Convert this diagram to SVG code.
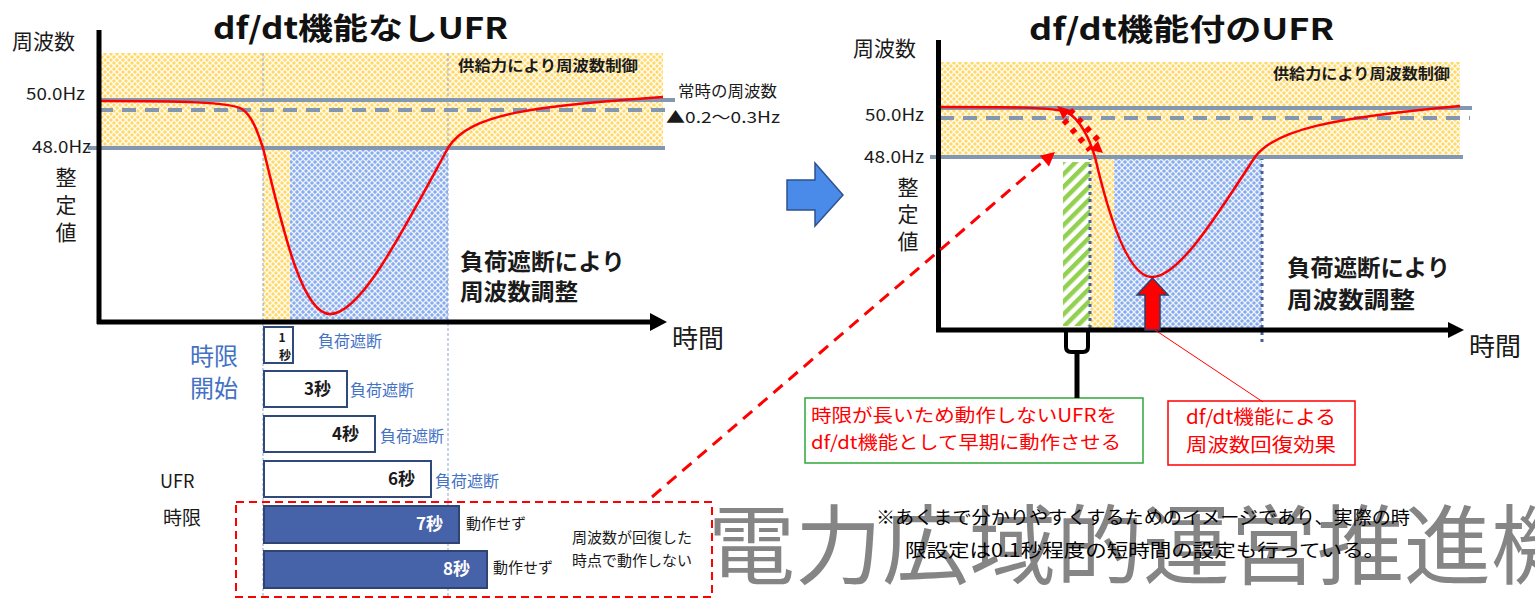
<svg xmlns="http://www.w3.org/2000/svg" width="1535" height="598" viewBox="0 0 1535 598">
<style>
text{font-family:"Noto Sans CJK JP","Noto Sans",sans-serif;fill:#1a1a1a}
.b{font-weight:bold}
.title{font-size:30px;font-weight:bold;fill:#111}
.ax{font-size:21px}
.hz{font-size:17px}
.blue{fill:#4472C4}
.red{fill:#FF0000}
.gl{stroke:#8497B0;stroke-width:4;fill:none}
.gd{stroke:#8497B0;stroke-width:4;fill:none;stroke-dasharray:14 9}
.axis{stroke:#000;stroke-width:5;fill:none}
.curve{stroke:#FF0000;stroke-width:2.5;fill:none}
.vdot{stroke:#8FA5CC;stroke-width:1;stroke-dasharray:3 2;fill:none}
.vdot2{stroke:#4A5E9A;stroke-width:3;stroke-dasharray:3 4;fill:none}
.box{fill:#fff;stroke:#2F4A7A;stroke-width:2}
.boxf{fill:#4662A8;stroke:#2F4470;stroke-width:2}
</style>
<defs>
<pattern id="py" width="6" height="6" patternUnits="userSpaceOnUse"><rect width="6" height="6" fill="#FFD866"/><path d="M0,0 L6,6 M6,0 L0,6" stroke="#FFFBEE" stroke-width="1.4"/></pattern>
<pattern id="pb" width="6" height="6" patternUnits="userSpaceOnUse"><rect width="6" height="6" fill="#88ACED"/><path d="M0,0 L6,6 M6,0 L0,6" stroke="#EDF3FD" stroke-width="1.25"/></pattern>
<pattern id="pg" width="9" height="9" patternUnits="userSpaceOnUse" patternTransform="rotate(45)"><rect width="9" height="9" fill="#fff"/><rect width="4.5" height="9" fill="#92D050"/></pattern>
</defs>
<rect width="1535" height="598" fill="#fff"/>

<!-- watermark -->
<g id="watermark"><text x="708" y="578" style="font-size:87px;fill:#858585">電力広域的運営推進機</text></g>

<!-- LEFT CHART -->
<g id="left-chart">
<text class="title" x="213" y="39" textLength="295" lengthAdjust="spacingAndGlyphs">df/dt機能なしUFR</text>
<rect x="100" y="53" width="563" height="95" fill="url(#py)"/>
<rect x="263" y="148" width="27" height="172" fill="url(#py)"/>
<rect x="290" y="148" width="158" height="172" fill="url(#pb)"/>
<line class="vdot" x1="263" y1="53" x2="263" y2="598"/>
<line class="vdot" x1="448" y1="53" x2="448" y2="598"/>
<line class="gl" x1="99" y1="100" x2="675" y2="100"/>
<line class="gd" x1="99" y1="110" x2="665" y2="110"/>
<line class="gl" x1="88" y1="148" x2="665" y2="148"/>
<path class="curve" d="M99,101 C180,101 230,102 242,109 C252,116 257,130 263,148 C280,215 300,314 330,314 C360,314 398,240 448,148 C470,112 540,106 663,97"/>
<line class="axis" x1="99" y1="30" x2="99" y2="324"/>
<line class="axis" x1="97" y1="322" x2="652" y2="322"/>
<polygon points="667,322 650,313 650,331" fill="#000"/>
<text class="ax" x="12" y="49">周波数</text>
<text class="hz" x="85" y="100" text-anchor="end" textLength="59" lengthAdjust="spacingAndGlyphs">50.0Hz</text>
<text class="hz" x="91" y="153" text-anchor="end" textLength="59" lengthAdjust="spacingAndGlyphs">48.0Hz</text>
<text class="ax" x="66" y="185" text-anchor="middle">整</text>
<text class="ax" x="66" y="213" text-anchor="middle">定</text>
<text class="ax" x="66" y="240" text-anchor="middle">値</text>
<text style="font-size:26px" x="672" y="348">時間</text>
<text class="b" style="font-size:14.5px" x="458" y="71" textLength="180" lengthAdjust="spacingAndGlyphs">供給力により周波数制御</text>
<text style="font-size:15.5px" x="678" y="97" textLength="99" lengthAdjust="spacingAndGlyphs">常時の周波数</text>
<text style="font-size:15.5px" x="666" y="123" textLength="114" lengthAdjust="spacingAndGlyphs">▲0.2～0.3Hz</text>
<text class="b" style="font-size:22.5px" x="460" y="270" textLength="165" lengthAdjust="spacingAndGlyphs">負荷遮断により</text>
<text class="b" style="font-size:22.5px" x="460" y="300" textLength="118" lengthAdjust="spacingAndGlyphs">周波数調整</text>
</g>

<!-- LEFT TIMER BARS -->
<g id="timers">
<text class="blue" style="font-size:24px" x="190" y="365">時限</text>
<text class="blue" style="font-size:24px" x="190" y="397">開始</text>
<text style="font-size:18px" x="160" y="488">UFR</text>
<text style="font-size:19px" x="163" y="525">時限</text>
<g id="t1"><rect class="box" x="264" y="327" width="29" height="36"/>
<text class="b" style="font-size:12px" x="282" y="342" text-anchor="middle">1</text>
<text class="b" style="font-size:12px" x="285" y="360" text-anchor="middle">秒</text>
<text class="blue" style="font-size:16px" x="318" y="347">負荷遮断</text></g>
<g id="t3"><rect class="box" x="264" y="371" width="83" height="36"/>
<text class="b" style="font-size:17px" x="331" y="395" text-anchor="end">3秒</text>
<text class="blue" style="font-size:16px" x="350" y="396">負荷遮断</text></g>
<g id="t4"><rect class="box" x="264" y="416" width="111" height="36"/>
<text class="b" style="font-size:17px" x="359" y="440" text-anchor="end">4秒</text>
<text class="blue" style="font-size:16px" x="380" y="442">負荷遮断</text></g>
<g id="t6"><rect class="box" x="264" y="461" width="167" height="36"/>
<text class="b" style="font-size:17px" x="415" y="485" text-anchor="end">6秒</text>
<text class="blue" style="font-size:16px" x="435" y="487">負荷遮断</text></g>
<g id="t7"><rect class="boxf" x="264" y="506" width="195" height="37"/>
<text class="b" style="font-size:17px;fill:#fff" x="443" y="530" text-anchor="end">7秒</text>
<text style="font-size:15px" x="466" y="529">動作せず</text></g>
<g id="t8"><rect class="boxf" x="264" y="551" width="223" height="37"/>
<text class="b" style="font-size:17px;fill:#fff" x="470" y="575" text-anchor="end">8秒</text>
<text style="font-size:15px" x="493" y="573">動作せず</text></g>
<g id="no-op-note"><rect x="236" y="502" width="476" height="95" fill="none" stroke="#FF0000" stroke-width="2" stroke-dasharray="8 5"/>
<text style="font-size:15px" x="572" y="543">周波数が回復した</text>
<text style="font-size:15px" x="572" y="566">時点で動作しない</text></g>
</g>

<!-- BLUE ARROW -->
<g id="transition-arrow"><polygon points="787,180 815,180 815,163 843,195 815,226 815,210 787,210" fill="#4A8BEA" stroke="#2F528F" stroke-width="1.5"/></g>

<!-- RIGHT CHART -->
<g id="right-chart">
<text class="title" x="1029" y="40" textLength="305" lengthAdjust="spacingAndGlyphs">df/dt機能付のUFR</text>
<rect x="940" y="62" width="520" height="95" fill="url(#py)"/>
<rect x="1063" y="162" width="27" height="164" fill="url(#pg)"/>
<rect x="1090" y="157" width="24" height="171" fill="url(#py)"/>
<rect x="1114" y="157" width="148" height="171" fill="url(#pb)"/>
<line class="vdot2" x1="1090" y1="157" x2="1090" y2="330"/>
<line class="vdot2" x1="1262" y1="157" x2="1262" y2="346"/>
<line class="gl" x1="938" y1="108" x2="1472" y2="108"/>
<line class="gd" x1="940" y1="118" x2="1470" y2="118"/>
<line class="gl" x1="930" y1="157" x2="1463" y2="157"/>
<path class="curve" d="M940,107 C1010,107 1052,107 1066,112 C1080,118 1090,140 1095,157 C1105,200 1125,277 1152,277 C1180,277 1220,210 1255,157 C1275,130 1330,118 1460,106"/>
<line class="axis" x1="938.5" y1="40" x2="938.5" y2="332"/>
<line class="axis" x1="936" y1="330" x2="1450" y2="330"/>
<polygon points="1464,330 1448,322 1448,338" fill="#000"/>
<text class="ax" x="853" y="56">周波数</text>
<text class="hz" x="924" y="121" text-anchor="end" textLength="59" lengthAdjust="spacingAndGlyphs">50.0Hz</text>
<text class="hz" x="924" y="163" text-anchor="end" textLength="60" lengthAdjust="spacingAndGlyphs">48.0Hz</text>
<text class="ax" x="908" y="195" text-anchor="middle">整</text>
<text class="ax" x="908" y="222" text-anchor="middle">定</text>
<text class="ax" x="908" y="249" text-anchor="middle">値</text>
<text style="font-size:26px" x="1469" y="356">時間</text>
<text class="b" style="font-size:14.5px" x="1273" y="79" textLength="177" lengthAdjust="spacingAndGlyphs">供給力により周波数制御</text>
<text class="b" style="font-size:22.5px" x="1287" y="276" textLength="163" lengthAdjust="spacingAndGlyphs">負荷遮断により</text>
<text class="b" style="font-size:22.5px" x="1287" y="308" textLength="128" lengthAdjust="spacingAndGlyphs">周波数調整</text>
<polygon id="recovery-arrow" points="1145,330 1160,330 1160,295 1168,295 1152.5,278 1137,295 1145,295" fill="#FF0000" stroke="#2F3F6F" stroke-width="1.5"/>
</g>

<!-- CALLOUTS -->
<g id="callout-green"><rect x="805" y="398" width="338" height="65" fill="#fff" stroke="#2EA836" stroke-width="1.5"/>
<text class="red" style="font-size:18px" x="811" y="422" textLength="306" lengthAdjust="spacingAndGlyphs">時限が長いため動作しないUFRを</text>
<text class="red" style="font-size:18px" x="811" y="449" textLength="310" lengthAdjust="spacingAndGlyphs">df/dt機能として早期に動作させる</text></g>
<g id="callout-red"><rect x="1168" y="401" width="187" height="64" fill="#fff" stroke="#FF0000" stroke-width="1.5"/>
<text class="red" style="font-size:19px" x="1261" y="424" text-anchor="middle" textLength="150" lengthAdjust="spacingAndGlyphs">df/dt機能による</text>
<text class="red" style="font-size:19px" x="1261" y="452" text-anchor="middle" textLength="150" lengthAdjust="spacingAndGlyphs">周波数回復効果</text></g>

<!-- CONNECTORS -->
<g id="connectors">
<line x1="652" y1="497" x2="1046" y2="159" stroke="#FF0000" stroke-width="3" stroke-dasharray="12 8"/>
<polygon points="1055,152 1049,166.4 1039.8,155.8" fill="#FF0000"/>
<line x1="1155" y1="330" x2="1263" y2="402" stroke="#FF0000" stroke-width="1"/>
<path d="M1066,332 L1066,347 Q1066,352 1071,352 L1083,352 Q1088,352 1088,347 L1088,332" fill="none" stroke="#000" stroke-width="4"/>
<line x1="1077" y1="352" x2="1077" y2="398" stroke="#000" stroke-width="5"/>
<g id="df-dt-dotted" stroke="#FF0000" stroke-width="6" stroke-dasharray="5 7" fill="none">
<path d="M1064,120 L1090,150"/>
<path d="M1070,110 L1098,140"/>
</g>
<polygon points="1057,106 1071,110 1063,119" fill="#FF0000"/>
<polygon points="1103,153 1090,150 1098,141" fill="#FF0000"/>
</g>

<!-- NOTE -->
<g id="note">
<text style="font-size:18px;fill:#000" x="876" y="524" textLength="534" lengthAdjust="spacingAndGlyphs">※あくまで分かりやすくするためのイメージであり、実際の時</text>
<text style="font-size:18px;fill:#000" x="905" y="557" textLength="480" lengthAdjust="spacingAndGlyphs">限設定は0.1秒程度の短時間の設定も行っている。</text>
</g>
</svg>
